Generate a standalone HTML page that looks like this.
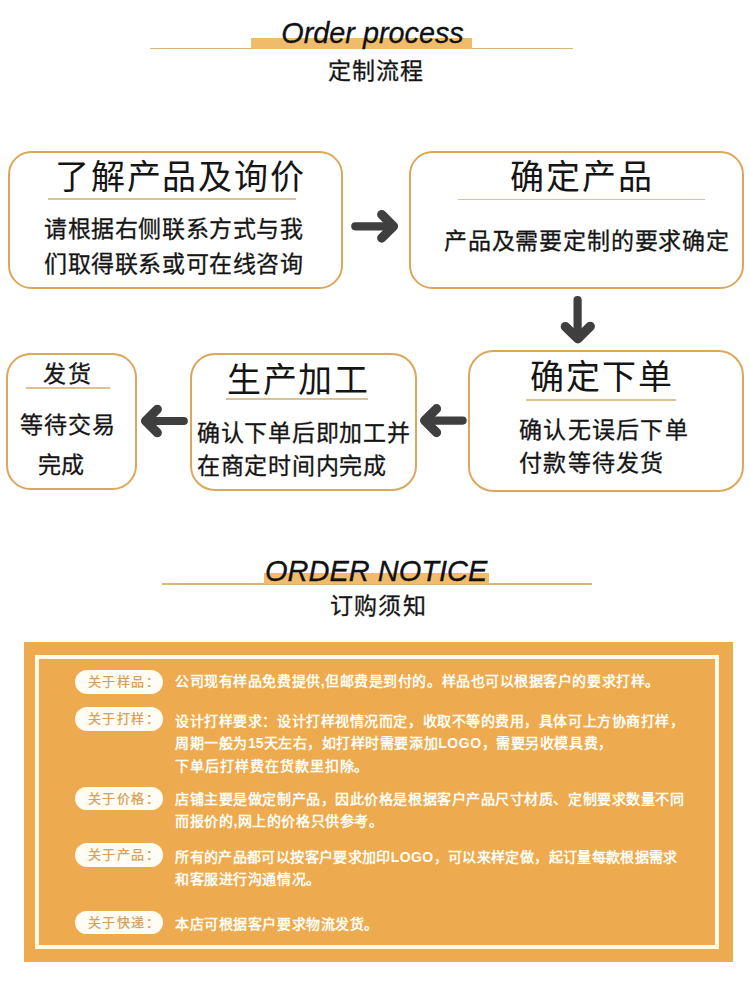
<!DOCTYPE html>
<html lang="zh-CN">
<head>
<meta charset="utf-8">
<style>
html,body{margin:0;padding:0;background:#fff;}
body{width:750px;height:987px;position:relative;overflow:hidden;font-family:"Liberation Sans",sans-serif;color:#151515;}
.a{position:absolute;white-space:nowrap;}
.hl{position:absolute;background:#f0bb6b;}
.tl{position:absolute;background:#dab57d;}
.box{position:absolute;border:2px solid #dca75c;border-radius:23px;box-sizing:border-box;background:#fff;}
.t{position:absolute;white-space:nowrap;line-height:1;-webkit-text-stroke:0.3px #151515;}
.ul{position:absolute;height:1.6px;background:#dcc292;}
.en{font-style:italic;font-size:27px;line-height:1;color:#111;-webkit-text-stroke:0.3px #111;}
.panel{position:absolute;left:23.5px;top:641.6px;width:709px;height:320.4px;background:#edaa4e;}
.frame{position:absolute;left:35.2px;top:654.6px;width:684px;height:294.3px;box-sizing:border-box;border:4.3px solid #fffbe8;}
.pill{position:absolute;left:75px;width:88.2px;height:23.5px;border-radius:12px;background:#fffcf3;color:#d89e55;font-size:13px;line-height:23.6px;text-indent:12.8px;letter-spacing:1.5px;font-weight:400;-webkit-text-stroke:0.25px #d89e55;}
.nt{position:absolute;left:175.2px;color:#fffdf5;font-size:14px;line-height:22.6px;font-weight:700;letter-spacing:0.55px;white-space:nowrap;}
.lg{letter-spacing:0.6px;}
.n15{letter-spacing:0;}
</style>
</head>
<body>
<!-- header 1 -->
<div class="tl" style="left:150px;top:47.6px;width:422.5px;height:1.6px;"></div>
<div class="hl" style="left:251px;top:37.5px;width:221px;height:11px;"></div>
<div class="a en" style="left:281.3px;top:18.5px;font-size:28.8px;">Order process</div>
<div class="t" style="left:328px;top:59.8px;font-size:23px;letter-spacing:1px;">定制流程</div>

<!-- box 1 -->
<div class="box" style="left:7.7px;top:150.7px;width:335.2px;height:138.6px;border-radius:23.5px;"></div>
<div class="t" style="left:55.3px;top:160.2px;font-size:34px;-webkit-text-stroke:0;letter-spacing:1.73px;">了解产品及询价</div>
<div class="ul" style="left:48px;top:198px;width:248px;"></div>
<div class="t" style="left:44px;top:211.7px;font-size:23px;letter-spacing:0.6px;line-height:35px;">请根据右侧联系方式与我<br>们取得联系或可在线咨询</div>

<!-- arrow right -->
<svg class="a" style="left:0;top:0" width="750" height="987" viewBox="0 0 750 987">
<g fill="none" stroke="#3f3f3f" stroke-linecap="round" stroke-linejoin="round">
<path stroke-width="8.2" d="M355.3 226.3 H392"/>
<path stroke-width="9.2" d="M381.7 214.5 L393.5 226.3 L381.7 238.1"/>
<path stroke-width="8.2" d="M577.6 300 V337"/>
<path stroke-width="9.4" d="M565.4 326.6 L577.8 338.7 L590.2 326.4"/>
<path stroke-width="8.2" d="M462.6 420.6 H426"/>
<path stroke-width="9.2" d="M436.55 408.65 L424.6 420.6 L436.55 432.55"/>
<path stroke-width="8.2" d="M183.75 421 H147"/>
<path stroke-width="9.2" d="M157.3 409.25 L145.55 421 L157.3 432.75"/>
</g>
</svg>

<!-- box 2 -->
<div class="box" style="left:409.1px;top:150.7px;width:335px;height:138.7px;border-radius:23.5px;"></div>
<div class="t" style="left:510px;top:160.4px;font-size:34px;-webkit-text-stroke:0;letter-spacing:2px;">确定产品</div>
<div class="ul" style="left:458px;top:198.5px;width:247px;"></div>
<div class="t" style="left:444px;top:230.3px;font-size:23px;letter-spacing:0.82px;">产品及需要定制的要求确定</div>

<!-- box 3 -->
<div class="box" style="left:467.8px;top:349.8px;width:276.3px;height:142.1px;border-radius:25.5px;"></div>
<div class="t" style="left:529.7px;top:359.7px;font-size:34px;-webkit-text-stroke:0;letter-spacing:2px;">确定下单</div>
<div class="ul" style="left:526px;top:399px;width:150px;"></div>
<div class="t" style="left:519px;top:413.6px;font-size:23px;letter-spacing:1.28px;line-height:33px;">确认无误后下单<br>付款等待发货</div>

<!-- box 4 -->
<div class="box" style="left:190px;top:353.1px;width:227px;height:137.5px;border-radius:25px;"></div>
<div class="t" style="left:227px;top:363px;font-size:34px;-webkit-text-stroke:0;letter-spacing:1.7px;">生产加工</div>
<div class="ul" style="left:226px;top:398px;width:142px;"></div>
<div class="t" style="left:197px;top:417.2px;font-size:23px;letter-spacing:0.73px;line-height:33.3px;">确认下单后即加工并<br>在商定时间内完成</div>

<!-- box 5 -->
<div class="box" style="left:6px;top:353.3px;width:130.8px;height:136.9px;border-radius:24.5px;"></div>
<div class="t" style="left:43px;top:363px;font-size:23px;letter-spacing:2px;">发货</div>
<div class="ul" style="left:26px;top:387px;width:84px;"></div>
<div class="t" style="left:20px;top:414.1px;font-size:23px;letter-spacing:1.07px;">等待交易</div>
<div class="t" style="left:38px;top:454.3px;font-size:23px;">完成</div>

<!-- header 2 -->
<div class="tl" style="left:162px;top:583px;width:429.5px;height:1.6px;"></div>
<div class="hl" style="left:264px;top:573px;width:225px;height:11px;"></div>
<div class="a en" style="left:265px;top:556.5px;font-size:29px;">ORDER NOTICE</div>
<div class="t" style="left:330px;top:595px;font-size:23px;letter-spacing:1.2px;">订购须知</div>

<!-- panel -->
<div class="panel"></div>
<div class="frame"></div>

<div class="pill" style="top:670px;">关于样品：</div>
<div class="nt" style="top:669.5px;">公司现有样品免费提供,但邮费是到付的。样品也可以根据客户的要求打样。</div>

<div class="pill" style="top:707px;">关于打样：</div>
<div class="nt" style="top:709.5px;">设计打样要求：设计打样视情况而定，收取不等的费用，具体可上方协商打样，<br>周期一般为<span class="n15">15</span>天左右，如打样时需要添加<span class="lg">LOGO</span>，需要另收模具费，<br><span style="letter-spacing:0.94px">下单后打样费在货款里扣除。</span></div>

<div class="pill" style="top:786.5px;">关于价格：</div>
<div class="nt" style="top:787.5px;">店铺主要是做定制产品，因此价格是根据客户产品尺寸材质、定制要求数量不同<br>而报价的,网上的价格只供参考。</div>

<div class="pill" style="top:843px;">关于产品：</div>
<div class="nt" style="top:845.5px;"><span style="letter-spacing:0.37px">所有的产品都可以按客户要求加印<span class="lg" style="letter-spacing:0.4px">LOGO</span>，可以来样定做，起订量每款根据需求</span><br>和客服进行沟通情况。</div>

<div class="pill" style="top:910.5px;">关于快递：</div>
<div class="nt" style="top:912.5px;">本店可根据客户要求物流发货。</div>
</body>
</html>
